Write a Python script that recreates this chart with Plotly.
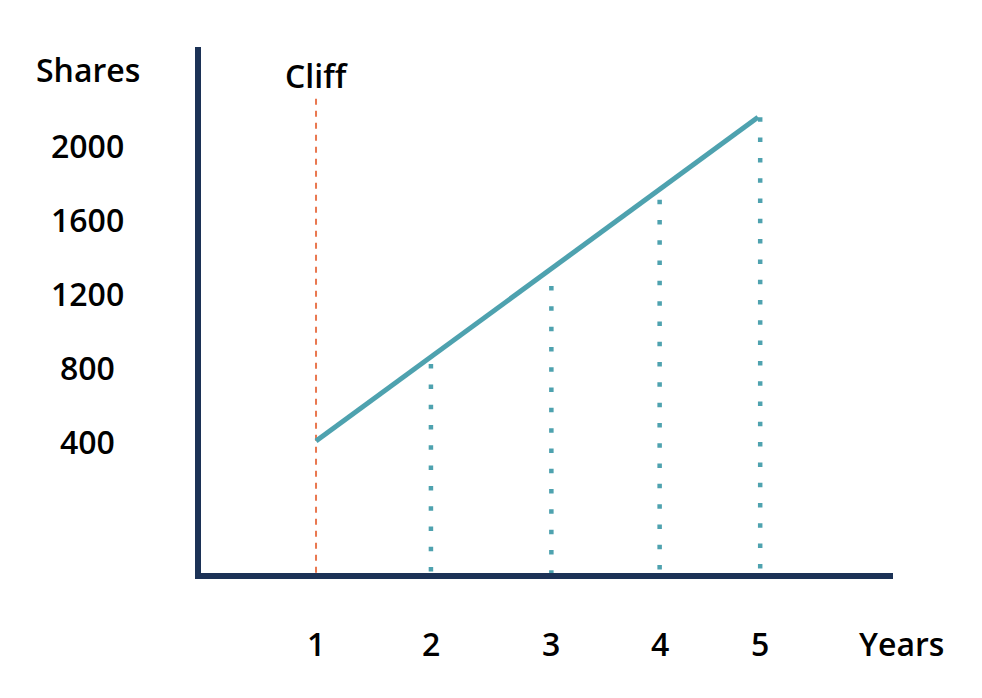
import plotly.graph_objects as go

# ---- data ----
years = ["1", "2", "3", "4", "5"]
year_pos = [1.0, 2.04, 3.13, 4.11, 5.02]          # horizontal position of each year mark
vest_line_years = [1.0, 5.0]
vest_line_shares = [400, 2150]                     # vesting line: from cliff to year 5
dotted_years = [2.04, 3.13, 4.11, 5.02]
dotted_tops = [816, 1238, 1705, 2150]              # height of the dotted drop lines
cliff_year = 1.0
cliff_top = 2250
share_ticks = [400, 800, 1200, 1600, 2000]

X_RANGE = [-0.041, 6.222]
Y_RANGE = [-313, 2530]

NAVY = "#1c3256"
TEAL = "#4ea2af"
ORANGE = "#e9774f"
FONT = dict(family="Open Sans", size=32, color="#000000", weight=600)

fig = go.Figure()

# cliff dashed line
fig.add_trace(go.Scatter(
    x=[cliff_year, cliff_year], y=[cliff_top, Y_RANGE[0]],
    mode="lines", line=dict(color=ORANGE, width=2, dash="6px,6px"),
    hoverinfo="skip", showlegend=False))

# dotted drop lines
dx, dy = [], []
for xv, top in zip(dotted_years, dotted_tops):
    dx += [xv, xv, None]
    dy += [top, Y_RANGE[0], None]
fig.add_trace(go.Scatter(
    x=dx, y=dy, mode="lines",
    line=dict(color=TEAL, width=4.5, dash="4.5px,15.8px"),
    hoverinfo="skip", showlegend=False, connectgaps=False))

# vesting line
fig.add_trace(go.Scatter(
    x=vest_line_years, y=vest_line_shares, mode="lines",
    line=dict(color=TEAL, width=5), hoverinfo="skip", showlegend=False))

annotations = []
# y labels (centered)
for v in share_ticks:
    annotations.append(dict(text=str(v), xref="paper", yref="y", x=-0.1633, y=v,
                            showarrow=False, xanchor="center", yanchor="middle", font=FONT))
# x labels
for lbl, xv in zip(years, year_pos):
    annotations.append(dict(text=lbl, xref="x", yref="paper", x=xv, y=-0.1331,
                            showarrow=False, xanchor="center", yanchor="middle", font=FONT))
annotations.append(dict(text="Shares", xref="paper", yref="paper", x=-0.1633, y=0.9563,
                        showarrow=False, xanchor="center", yanchor="middle", font=FONT))
annotations.append(dict(text="Years", xref="paper", yref="paper", x=1.013, y=-0.1331,
                        showarrow=False, xanchor="center", yanchor="middle", font=FONT))
annotations.append(dict(text="Cliff", xref="x", yref="paper", x=cliff_year, y=0.9449,
                        showarrow=False, xanchor="center", yanchor="middle", font=FONT))

fig.update_layout(
    width=982, height=698,
    margin=dict(l=193, r=97, t=39, b=133),
    paper_bgcolor="white", plot_bgcolor="white",
    annotations=annotations,
    xaxis=dict(range=X_RANGE, showline=True, linecolor=NAVY, linewidth=6,
               showgrid=False, zeroline=False, showticklabels=False, ticks=""),
    yaxis=dict(range=Y_RANGE, showline=True, linecolor=NAVY, linewidth=6,
               showgrid=False, zeroline=False, showticklabels=False, ticks=""),
)

fig.write_html("out.html")
